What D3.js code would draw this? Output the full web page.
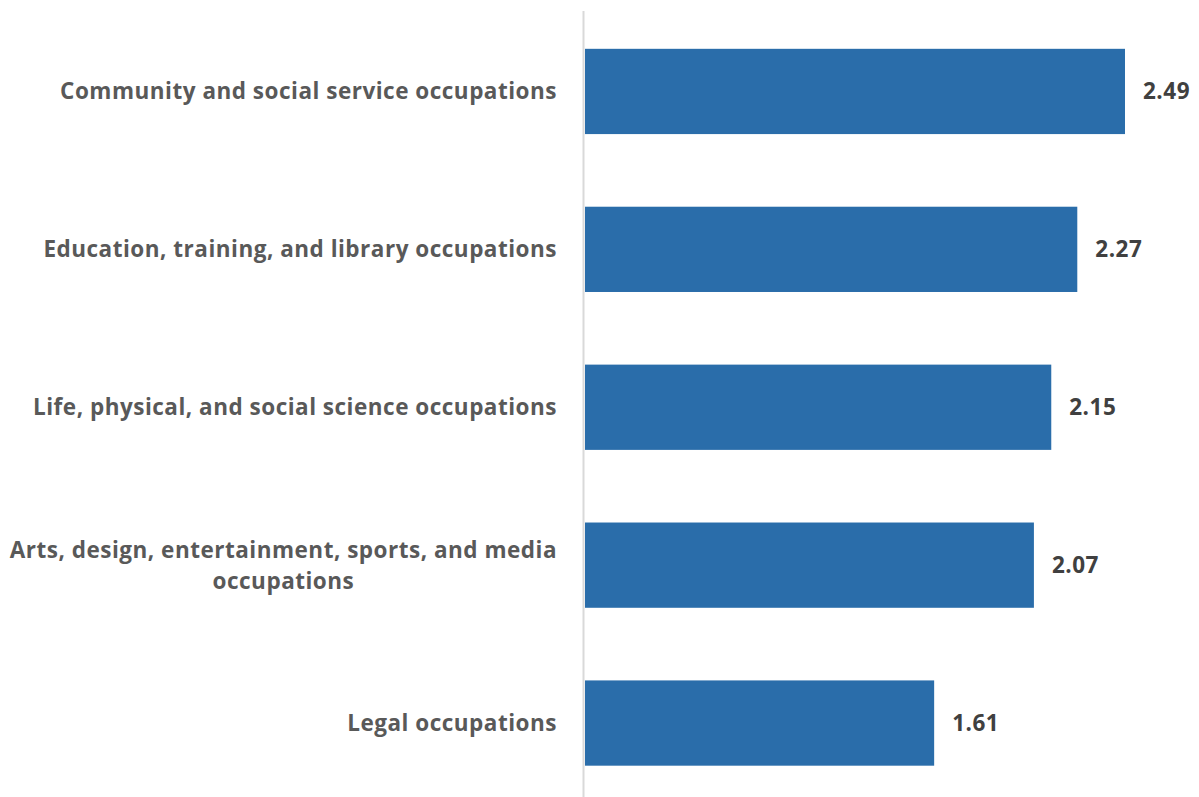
<!DOCTYPE html>
<html>
<head>
<meta charset="utf-8">
<script src="https://cdn.jsdelivr.net/npm/d3@7"></script>
<style>
  html, body { margin: 0; padding: 0; background: #fff; }
  svg { display: block; }
</style>
</head>
<body>
<svg id="chart" width="1199" height="797"></svg>
<script>
// Occupation groups and their values
const categories = [
  "Community and social service occupations",
  "Education, training, and library occupations",
  "Life, physical, and social science occupations",
  "Arts, design, entertainment, sports, and media occupations",
  "Legal occupations"
];
const values = [2.49, 2.27, 2.15, 2.07, 1.61];

const W = 1199, H = 797;
const left = 585, right = 1125;
const svg = d3.select("#chart");

const x = d3.scaleLinear().domain([0, values[0]]).range([left, right]);
const y = d3.scaleBand().domain(categories).range([12.5, 802]).paddingInner(0.46).paddingOuter(0.23);

const font = "'Open Sans', Lato, sans-serif";
const fs = 22.5, fw = 700, ls = 0.5;

// category axis line
svg.append("line")
  .attr("x1", left - 1.5).attr("x2", left - 1.5)
  .attr("y1", 11).attr("y2", H)
  .attr("stroke", "#d9d9d9").attr("stroke-width", 2);

// bars
svg.selectAll("rect.bar").data(categories).enter().append("rect")
  .attr("class", "bar")
  .attr("x", x(0))
  .attr("y", d => y(d))
  .attr("width", (d, i) => x(values[i]) - x(0))
  .attr("height", y.bandwidth())
  .attr("fill", "#2a6daa");

// value labels
svg.selectAll("text.val").data(categories).enter().append("text")
  .attr("class", "val")
  .attr("x", (d, i) => x(values[i]) + 18)
  .attr("y", d => y(d) + y.bandwidth() / 2)
  .attr("dy", "0.35em")
  .attr("font-family", font).attr("font-weight", 700).attr("font-size", fs)
  .attr("letter-spacing", ls)
  .attr("fill", "#404040")
  .text((d, i) => values[i].toFixed(2));

// category labels, wrapped when too wide
const labelRight = 557, maxW = 560, lineH = 31;
function measure(g, s) {
  const tmp = g.append("text").attr("font-family", font).attr("font-weight", fw)
    .attr("font-size", fs).attr("letter-spacing", ls).text(s);
  const w = tmp.node().getComputedTextLength();
  tmp.remove();
  return w;
}
categories.forEach(cat => {
  const g = svg.append("g");
  const cy = y(cat) + y.bandwidth() / 2;
  const words = cat.split(" ");
  const lines = [];
  let cur = [];
  words.forEach(w => {
    const test = cur.concat([w]).join(" ");
    if (measure(g, test) > maxW && cur.length) {
      lines.push(cur.join(" "));
      cur = [w];
    } else cur.push(w);
  });
  lines.push(cur.join(" "));

  const t = g.append("text")
    .attr("font-family", font).attr("font-weight", fw).attr("font-size", fs)
    .attr("letter-spacing", ls)
    .attr("fill", "#595959");
  if (lines.length === 1) {
    t.attr("x", labelRight).attr("y", cy).attr("dy", "0.35em")
      .attr("text-anchor", "end").text(lines[0]);
  } else {
    const blockW = d3.max(lines, l => measure(g, l));
    const cx = labelRight - blockW / 2;
    const y0 = cy - (lines.length - 1) * lineH / 2;
    t.attr("text-anchor", "middle");
    lines.forEach((l, i) => {
      t.append("tspan").attr("x", cx).attr("y", y0 + i * lineH).attr("dy", "0.35em").text(l);
    });
  }
});
</script>
</body>
</html>
